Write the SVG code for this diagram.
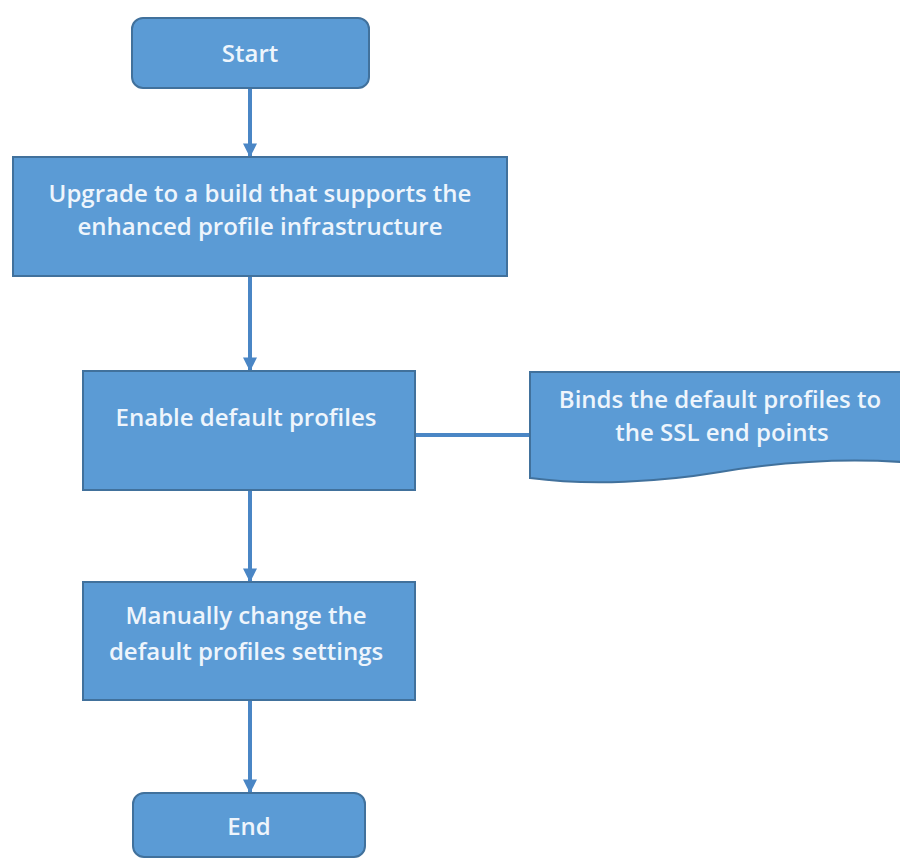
<svg xmlns="http://www.w3.org/2000/svg" width="900" height="859" viewBox="0 0 900 859">
  <defs>
    <marker id="arrow" viewBox="0 0 10 10" refX="9" refY="5" markerWidth="3.5" markerHeight="3.5" orient="auto">
      <path d="M0,0 L10,5 L0,10 z" fill="#4A86C5"/>
    </marker>
    <style>
      .box { fill: #5B9BD5; stroke: #41719C; stroke-width: 2; }
      .label { font-family: "Open Sans", "Liberation Sans", sans-serif; font-size: 24px; font-weight: 600; fill: #EEF5FC; text-anchor: middle; dominant-baseline: central; }
      .link { stroke: #4A86C5; stroke-width: 4; fill: none; }
    </style>
  </defs>
  <rect width="900" height="859" fill="#FFFFFF"/>

  <g id="connectors">
    <line class="link" x1="250" y1="88" x2="250" y2="156" marker-end="url(#arrow)"/>
    <line class="link" x1="250" y1="277" x2="250" y2="370" marker-end="url(#arrow)"/>
    <line class="link" x1="415" y1="435" x2="530" y2="435"/>
    <line class="link" x1="250" y1="491" x2="250" y2="581" marker-end="url(#arrow)"/>
    <line class="link" x1="250" y1="701" x2="250" y2="792" marker-end="url(#arrow)"/>
  </g>

  <g id="start">
    <rect class="box" x="132" y="18" width="237" height="70" rx="11"/>
    <text class="label" x="250" y="52">Start</text>
  </g>

  <g id="upgrade">
    <rect class="box" x="13" y="157" width="494" height="119"/>
    <text class="label" x="260" y="192">Upgrade to a build that supports the</text>
    <text class="label" x="260" y="225">enhanced profile infrastructure</text>
  </g>

  <g id="enable">
    <rect class="box" x="83" y="371" width="332" height="119"/>
    <text class="label" x="246" y="416">Enable default profiles</text>
  </g>

  <g id="binds">
    <path class="box" d="M530,372 L902,372 L902,462 C840,458 780,462 720,472 C660,482 590,486 530,478 Z"/>
    <text class="label" x="720" y="398">Binds the default profiles to</text>
    <text class="label" x="722" y="431">the SSL end points</text>
  </g>

  <g id="manual">
    <rect class="box" x="83" y="582" width="332" height="118"/>
    <text class="label" x="246" y="614">Manually change the</text>
    <text class="label" x="246" y="650">default profiles settings</text>
  </g>

  <g id="end">
    <rect class="box" x="133" y="793" width="232" height="64" rx="11"/>
    <text class="label" x="249" y="825">End</text>
  </g>
</svg>
